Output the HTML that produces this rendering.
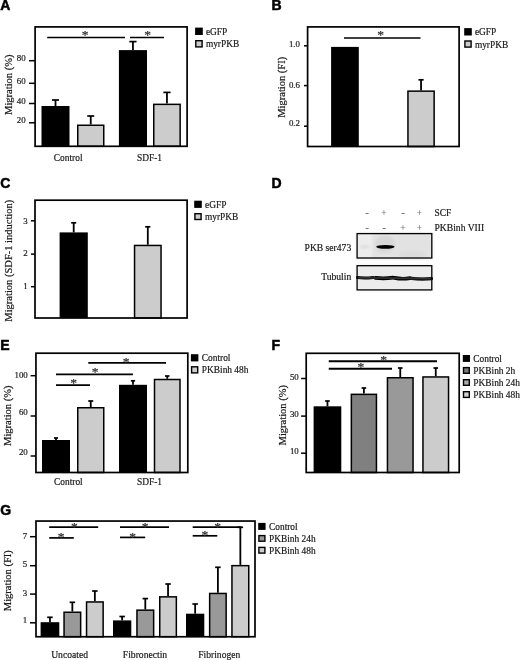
<!DOCTYPE html>
<html><head><meta charset="utf-8"><title>Figure</title>
<style>
html,body{margin:0;padding:0;background:#fff;}
body{width:520px;height:660px;overflow:hidden;}
svg{display:block;filter:blur(0.4px);}
.s{font-family:"Liberation Serif",serif;fill:#1a1a1a;stroke:#1a1a1a;stroke-width:0.2;}
.b{font-family:"Liberation Sans",sans-serif;font-weight:bold;fill:#000;stroke:#000;stroke-width:0.5;}
</style></head><body>
<svg width="520" height="660" viewBox="0 0 520 660">
<defs><filter id="bl" x="-5%" y="-20%" width="110%" height="140%"><feGaussianBlur stdDeviation="1.6"/></filter><filter id="bl2" x="-5%" y="-50%" width="110%" height="200%"><feGaussianBlur stdDeviation="0.7"/></filter></defs>
<rect width="520" height="660" fill="#fff"/>
<text x="0.20" y="10.00" text-anchor="start" font-size="14" class="b" >A</text>
<line x1="55.50" y1="100.00" x2="55.50" y2="106.00" stroke="#000" stroke-width="1.8"/>
<line x1="52.00" y1="100.00" x2="59.00" y2="100.00" stroke="#000" stroke-width="1.7"/>
<rect x="41.50" y="106.00" width="28.00" height="40.30" fill="#000"/>
<line x1="90.75" y1="116.00" x2="90.75" y2="124.50" stroke="#000" stroke-width="1.8"/>
<line x1="87.25" y1="116.00" x2="94.25" y2="116.00" stroke="#000" stroke-width="1.7"/>
<rect x="77.75" y="125.25" width="26.00" height="21.05" fill="#cccccc" stroke="#000" stroke-width="1.5"/>
<line x1="132.95" y1="41.60" x2="132.95" y2="50.10" stroke="#000" stroke-width="1.8"/>
<line x1="129.35" y1="41.60" x2="136.55" y2="41.60" stroke="#000" stroke-width="1.7"/>
<rect x="118.90" y="50.10" width="28.10" height="96.20" fill="#000"/>
<line x1="166.95" y1="92.40" x2="166.95" y2="103.60" stroke="#000" stroke-width="1.8"/>
<line x1="163.35" y1="92.40" x2="170.55" y2="92.40" stroke="#000" stroke-width="1.7"/>
<rect x="153.75" y="104.35" width="26.40" height="41.95" fill="#cccccc" stroke="#000" stroke-width="1.5"/>
<rect x="35.10" y="26.90" width="152.00" height="119.40" fill="none" stroke="#000" stroke-width="1.7"/>
<line x1="29.00" y1="60.70" x2="35.00" y2="60.70" stroke="#000" stroke-width="1.5"/>
<text x="25.60" y="61.20" text-anchor="end" font-size="8.9" class="s" >80</text>
<line x1="29.00" y1="83.30" x2="35.00" y2="83.30" stroke="#000" stroke-width="1.5"/>
<text x="25.60" y="83.80" text-anchor="end" font-size="8.9" class="s" >60</text>
<line x1="29.00" y1="103.50" x2="35.00" y2="103.50" stroke="#000" stroke-width="1.5"/>
<text x="25.60" y="104.00" text-anchor="end" font-size="8.9" class="s" >40</text>
<line x1="29.00" y1="122.80" x2="35.00" y2="122.80" stroke="#000" stroke-width="1.5"/>
<text x="25.60" y="123.30" text-anchor="end" font-size="8.9" class="s" >20</text>
<text transform="translate(11.50,84.70) rotate(-90)" text-anchor="middle" font-size="10.5" class="s">Migration (%)</text>
<line x1="47.20" y1="37.50" x2="125.00" y2="37.50" stroke="#000" stroke-width="1.5"/>
<text x="85.00" y="39.05" text-anchor="middle" font-size="13.5" class="s" style="fill:#333;stroke:#333;stroke-width:0.25">*</text>
<line x1="130.00" y1="37.50" x2="164.00" y2="37.50" stroke="#000" stroke-width="1.5"/>
<text x="147.50" y="39.05" text-anchor="middle" font-size="13.5" class="s" style="fill:#333;stroke:#333;stroke-width:0.25">*</text>
<text x="68.20" y="160.60" text-anchor="middle" font-size="9.4" class="s" >Control</text>
<text x="149.50" y="160.60" text-anchor="middle" font-size="9.4" class="s" >SDF-1</text>
<rect x="195.10" y="27.60" width="7.70" height="7.40" fill="#000"/>
<text x="205.90" y="34.70" text-anchor="start" font-size="9.4" class="s" >eGFP</text>
<rect x="195.80" y="40.70" width="6.30" height="6.20" fill="#cccccc" stroke="#000" stroke-width="1.4"/>
<text x="205.90" y="47.30" text-anchor="start" font-size="9.4" class="s" >myrPKB</text>
<text x="271.40" y="10.00" text-anchor="start" font-size="14" class="b" >B</text>
<line x1="344.95" y1="46.90" x2="344.95" y2="46.90" stroke="#000" stroke-width="1.8"/>
<line x1="344.95" y1="46.90" x2="344.95" y2="46.90" stroke="#000" stroke-width="1.7"/>
<rect x="331.10" y="46.90" width="27.70" height="99.60" fill="#000"/>
<line x1="421.05" y1="79.80" x2="421.05" y2="90.40" stroke="#000" stroke-width="1.8"/>
<line x1="418.45" y1="79.80" x2="423.65" y2="79.80" stroke="#000" stroke-width="1.7"/>
<rect x="407.95" y="91.15" width="26.20" height="55.35" fill="#cccccc" stroke="#000" stroke-width="1.5"/>
<rect x="307.60" y="26.90" width="151.50" height="119.60" fill="none" stroke="#000" stroke-width="1.7"/>
<line x1="304.00" y1="45.80" x2="307.50" y2="45.80" stroke="#000" stroke-width="1.5"/>
<text x="300.00" y="46.60" text-anchor="end" font-size="8.9" class="s" >1.0</text>
<line x1="304.00" y1="85.60" x2="307.50" y2="85.60" stroke="#000" stroke-width="1.5"/>
<text x="300.00" y="87.50" text-anchor="end" font-size="8.9" class="s" >0.6</text>
<line x1="304.00" y1="126.20" x2="307.50" y2="126.20" stroke="#000" stroke-width="1.5"/>
<text x="300.00" y="126.20" text-anchor="end" font-size="8.9" class="s" >0.2</text>
<text transform="translate(285.20,87.30) rotate(-90)" text-anchor="middle" font-size="10.5" class="s">Migration (FI)</text>
<line x1="344.00" y1="38.00" x2="420.50" y2="38.00" stroke="#000" stroke-width="1.6"/>
<text x="380.50" y="39.45" text-anchor="middle" font-size="13.5" class="s" style="fill:#333;stroke:#333;stroke-width:0.25">*</text>
<rect x="464.20" y="28.10" width="7.60" height="7.40" fill="#000"/>
<text x="474.90" y="35.20" text-anchor="start" font-size="9.4" class="s" >eGFP</text>
<rect x="464.90" y="41.00" width="6.20" height="6.10" fill="#cccccc" stroke="#000" stroke-width="1.4"/>
<text x="474.90" y="47.50" text-anchor="start" font-size="9.4" class="s" >myrPKB</text>
<text x="0.20" y="187.70" text-anchor="start" font-size="14" class="b" >C</text>
<line x1="73.70" y1="222.80" x2="73.70" y2="232.40" stroke="#000" stroke-width="1.8"/>
<line x1="71.20" y1="222.80" x2="76.20" y2="222.80" stroke="#000" stroke-width="1.7"/>
<rect x="59.60" y="232.40" width="28.20" height="85.60" fill="#000"/>
<line x1="147.80" y1="226.80" x2="147.80" y2="244.70" stroke="#000" stroke-width="1.8"/>
<line x1="145.20" y1="226.80" x2="150.40" y2="226.80" stroke="#000" stroke-width="1.7"/>
<rect x="134.55" y="245.45" width="26.50" height="72.55" fill="#cccccc" stroke="#000" stroke-width="1.5"/>
<rect x="35.00" y="200.20" width="152.10" height="117.80" fill="none" stroke="#000" stroke-width="1.7"/>
<line x1="31.00" y1="220.80" x2="35.00" y2="220.80" stroke="#000" stroke-width="1.5"/>
<text x="27.80" y="223.60" text-anchor="end" font-size="8.9" class="s" >3</text>
<line x1="31.00" y1="254.10" x2="35.00" y2="254.10" stroke="#000" stroke-width="1.5"/>
<text x="27.80" y="256.00" text-anchor="end" font-size="8.9" class="s" >2</text>
<line x1="31.00" y1="286.70" x2="35.00" y2="286.70" stroke="#000" stroke-width="1.5"/>
<text x="27.80" y="289.20" text-anchor="end" font-size="8.9" class="s" >1</text>
<text transform="translate(11.50,260.70) rotate(-90)" text-anchor="middle" font-size="10.5" class="s">Migration (SDF-1 induction)</text>
<rect x="194.20" y="200.70" width="7.60" height="7.20" fill="#000"/>
<text x="205.00" y="207.60" text-anchor="start" font-size="9.4" class="s" >eGFP</text>
<rect x="194.90" y="213.70" width="6.20" height="5.80" fill="#cccccc" stroke="#000" stroke-width="1.4"/>
<text x="205.00" y="219.90" text-anchor="start" font-size="9.4" class="s" >myrPKB</text>
<text x="271.40" y="187.70" text-anchor="start" font-size="14" class="b" >D</text>
<text x="367.00" y="215.50" text-anchor="middle" font-size="9.5" class="s" style="fill:#666;stroke:#666;stroke-width:0.2">-</text>
<text x="367.00" y="230.50" text-anchor="middle" font-size="9.5" class="s" style="fill:#666;stroke:#666;stroke-width:0.2">-</text>
<text x="384.00" y="215.50" text-anchor="middle" font-size="9.5" class="s" style="fill:#777;stroke:#777;stroke-width:0.15">+</text>
<text x="384.00" y="230.50" text-anchor="middle" font-size="9.5" class="s" style="fill:#666;stroke:#666;stroke-width:0.2">-</text>
<text x="403.00" y="215.50" text-anchor="middle" font-size="9.5" class="s" style="fill:#666;stroke:#666;stroke-width:0.2">-</text>
<text x="403.00" y="230.50" text-anchor="middle" font-size="9.5" class="s" style="fill:#777;stroke:#777;stroke-width:0.15">+</text>
<text x="419.50" y="215.50" text-anchor="middle" font-size="9.5" class="s" style="fill:#777;stroke:#777;stroke-width:0.15">+</text>
<text x="419.50" y="230.50" text-anchor="middle" font-size="9.5" class="s" style="fill:#777;stroke:#777;stroke-width:0.15">+</text>
<text x="434.50" y="215.50" text-anchor="start" font-size="9.4" class="s" >SCF</text>
<text x="434.50" y="230.50" text-anchor="start" font-size="9.6" class="s" >PKBinh VIII</text>
<text x="351.20" y="251.40" text-anchor="end" font-size="9.6" class="s" >PKB ser473</text>
<text x="351.20" y="280.00" text-anchor="end" font-size="9.6" class="s" >Tubulin</text>
<g filter="url(#bl)">
<rect x="356.50" y="233.00" width="75.90" height="25.60" fill="#e2e2e2"/>
<rect x="356.50" y="233.00" width="15.50" height="25.60" fill="#ededed"/>
<rect x="356.50" y="265.10" width="75.90" height="25.40" fill="#ececec"/>
<ellipse cx="385" cy="244" rx="10" ry="9" fill="#d4d4d4" opacity="0.7"/>
<ellipse cx="412" cy="255" rx="14" ry="4" fill="#d8d8d8" opacity="0.7"/>
<ellipse cx="365" cy="246.7" rx="5" ry="1.2" fill="#cfcfcf" opacity="0.8"/>
</g>
<g filter="url(#bl2)">
<ellipse cx="385.4" cy="246.8" rx="9.2" ry="1.9" fill="#050505"/>
<path d="M357.5 277.6 Q 365 278.6 373 277.4" stroke="#0c0c0c" stroke-width="3.0" fill="none" stroke-linecap="round"/>
<path d="M375.5 277.9 Q 384 279 393 277.6" stroke="#060606" stroke-width="3.7" fill="none" stroke-linecap="round"/>
<path d="M394.5 277.9 Q 402 279.4 410 278.2" stroke="#060606" stroke-width="3.7" fill="none" stroke-linecap="round"/>
<path d="M411.5 278.3 Q 421 279.6 431.5 278.6" stroke="#0c0c0c" stroke-width="3.2" fill="none" stroke-linecap="round"/>
<path d="M357.5 277.8 L 431.5 278.6" stroke="#333" stroke-width="1.6" fill="none"/>
</g>
<rect x="357.10" y="233.60" width="74.70" height="24.40" fill="none" stroke="#000" stroke-width="1.3"/>
<rect x="357.10" y="265.70" width="74.70" height="24.20" fill="none" stroke="#000" stroke-width="1.3"/>
<text x="0.20" y="350.00" text-anchor="start" font-size="14" class="b" >E</text>
<line x1="56.00" y1="438.00" x2="56.00" y2="440.00" stroke="#000" stroke-width="1.8"/>
<line x1="54.00" y1="438.00" x2="58.00" y2="438.00" stroke="#000" stroke-width="1.7"/>
<rect x="42.00" y="440.00" width="28.00" height="32.50" fill="#000"/>
<line x1="90.75" y1="401.00" x2="90.75" y2="407.00" stroke="#000" stroke-width="1.8"/>
<line x1="88.25" y1="401.00" x2="93.25" y2="401.00" stroke="#000" stroke-width="1.7"/>
<rect x="77.75" y="407.75" width="26.00" height="64.75" fill="#cccccc" stroke="#000" stroke-width="1.5"/>
<line x1="133.00" y1="380.80" x2="133.00" y2="384.80" stroke="#000" stroke-width="1.8"/>
<line x1="130.90" y1="380.80" x2="135.10" y2="380.80" stroke="#000" stroke-width="1.7"/>
<rect x="119.00" y="384.80" width="28.00" height="87.70" fill="#000"/>
<line x1="167.25" y1="376.00" x2="167.25" y2="378.75" stroke="#000" stroke-width="1.8"/>
<line x1="165.00" y1="376.00" x2="169.50" y2="376.00" stroke="#000" stroke-width="1.7"/>
<rect x="154.50" y="379.50" width="25.50" height="93.00" fill="#cccccc" stroke="#000" stroke-width="1.5"/>
<rect x="35.95" y="353.20" width="151.85" height="119.30" fill="none" stroke="#000" stroke-width="1.7"/>
<line x1="30.60" y1="375.70" x2="36.00" y2="375.70" stroke="#000" stroke-width="1.5"/>
<text x="27.80" y="377.60" text-anchor="end" font-size="8.9" class="s" >100</text>
<line x1="30.60" y1="416.00" x2="36.00" y2="416.00" stroke="#000" stroke-width="1.5"/>
<text x="27.80" y="415.00" text-anchor="end" font-size="8.9" class="s" >60</text>
<line x1="30.60" y1="456.00" x2="36.00" y2="456.00" stroke="#000" stroke-width="1.5"/>
<text x="27.80" y="454.50" text-anchor="end" font-size="8.9" class="s" >20</text>
<text transform="translate(11.20,415.70) rotate(-90)" text-anchor="middle" font-size="10.5" class="s">Migration (%)</text>
<line x1="88.30" y1="362.90" x2="166.00" y2="362.90" stroke="#000" stroke-width="1.9"/>
<text x="126.00" y="365.95" text-anchor="middle" font-size="13.5" class="s" style="fill:#333;stroke:#333;stroke-width:0.25">*</text>
<line x1="56.00" y1="374.40" x2="132.90" y2="374.40" stroke="#000" stroke-width="1.9"/>
<text x="95.20" y="376.35" text-anchor="middle" font-size="13.5" class="s" style="fill:#333;stroke:#333;stroke-width:0.25">*</text>
<line x1="56.00" y1="385.10" x2="90.00" y2="385.10" stroke="#000" stroke-width="1.9"/>
<text x="73.70" y="387.45" text-anchor="middle" font-size="13.5" class="s" style="fill:#333;stroke:#333;stroke-width:0.25">*</text>
<text x="68.40" y="484.60" text-anchor="middle" font-size="9.4" class="s" >Control</text>
<text x="149.50" y="484.60" text-anchor="middle" font-size="9.4" class="s" >SDF-1</text>
<rect x="190.90" y="354.20" width="7.50" height="7.20" fill="#000"/>
<text x="201.80" y="361.10" text-anchor="start" font-size="9.4" class="s" >Control</text>
<rect x="191.60" y="366.80" width="6.10" height="6.10" fill="#cccccc" stroke="#000" stroke-width="1.4"/>
<text x="201.80" y="373.30" text-anchor="start" font-size="9.4" class="s" >PKBinh 48h</text>
<text x="271.40" y="350.00" text-anchor="start" font-size="14" class="b" >F</text>
<line x1="327.45" y1="401.00" x2="327.45" y2="406.30" stroke="#000" stroke-width="1.8"/>
<line x1="325.15" y1="401.00" x2="329.75" y2="401.00" stroke="#000" stroke-width="1.7"/>
<rect x="313.60" y="406.30" width="27.70" height="66.20" fill="#000"/>
<line x1="363.90" y1="388.00" x2="363.90" y2="393.60" stroke="#000" stroke-width="1.8"/>
<line x1="361.60" y1="388.00" x2="366.20" y2="388.00" stroke="#000" stroke-width="1.7"/>
<rect x="351.35" y="394.35" width="25.10" height="78.15" fill="#808080" stroke="#000" stroke-width="1.5"/>
<line x1="400.25" y1="368.00" x2="400.25" y2="377.00" stroke="#000" stroke-width="1.8"/>
<line x1="397.95" y1="368.00" x2="402.55" y2="368.00" stroke="#000" stroke-width="1.7"/>
<rect x="387.45" y="377.75" width="25.60" height="94.75" fill="#999999" stroke="#000" stroke-width="1.5"/>
<line x1="435.75" y1="368.00" x2="435.75" y2="376.20" stroke="#000" stroke-width="1.8"/>
<line x1="433.45" y1="368.00" x2="438.05" y2="368.00" stroke="#000" stroke-width="1.7"/>
<rect x="422.95" y="376.95" width="25.60" height="95.55" fill="#cccccc" stroke="#000" stroke-width="1.5"/>
<rect x="306.20" y="353.30" width="153.00" height="119.20" fill="none" stroke="#000" stroke-width="1.7"/>
<line x1="301.10" y1="378.50" x2="306.20" y2="378.50" stroke="#000" stroke-width="1.5"/>
<text x="298.80" y="379.90" text-anchor="end" font-size="8.9" class="s" >50</text>
<line x1="301.10" y1="416.10" x2="306.20" y2="416.10" stroke="#000" stroke-width="1.5"/>
<text x="298.80" y="417.10" text-anchor="end" font-size="8.9" class="s" >30</text>
<line x1="301.10" y1="453.20" x2="306.20" y2="453.20" stroke="#000" stroke-width="1.5"/>
<text x="298.80" y="453.70" text-anchor="end" font-size="8.9" class="s" >10</text>
<text transform="translate(285.50,415.20) rotate(-90)" text-anchor="middle" font-size="10.5" class="s">Migration (%)</text>
<line x1="328.75" y1="361.20" x2="437.00" y2="361.20" stroke="#000" stroke-width="1.9"/>
<text x="383.60" y="363.95" text-anchor="middle" font-size="13.5" class="s" style="fill:#333;stroke:#333;stroke-width:0.25">*</text>
<line x1="328.75" y1="368.80" x2="392.00" y2="368.80" stroke="#000" stroke-width="1.9"/>
<text x="360.80" y="371.45" text-anchor="middle" font-size="13.5" class="s" style="fill:#333;stroke:#333;stroke-width:0.25">*</text>
<rect x="462.80" y="355.00" width="7.20" height="6.90" fill="#000"/>
<text x="473.30" y="361.60" text-anchor="start" font-size="9.4" class="s" >Control</text>
<rect x="463.50" y="367.60" width="5.80" height="5.70" fill="#777" stroke="#000" stroke-width="1.4"/>
<text x="473.30" y="373.70" text-anchor="start" font-size="9.4" class="s" >PKBinh 2h</text>
<rect x="463.50" y="379.70" width="5.80" height="5.60" fill="#aaa" stroke="#000" stroke-width="1.4"/>
<text x="473.30" y="385.70" text-anchor="start" font-size="9.4" class="s" >PKBinh 24h</text>
<rect x="463.50" y="391.70" width="5.80" height="5.70" fill="#d0d0d0" stroke="#000" stroke-width="1.4"/>
<text x="473.30" y="397.80" text-anchor="start" font-size="9.4" class="s" >PKBinh 48h</text>
<text x="0.20" y="515.20" text-anchor="start" font-size="14" class="b" >G</text>
<line x1="49.95" y1="617.30" x2="49.95" y2="622.20" stroke="#000" stroke-width="1.8"/>
<line x1="47.20" y1="617.30" x2="52.70" y2="617.30" stroke="#000" stroke-width="1.7"/>
<rect x="40.60" y="622.20" width="18.70" height="14.55" fill="#000"/>
<line x1="72.35" y1="602.30" x2="72.35" y2="611.50" stroke="#000" stroke-width="1.8"/>
<line x1="69.60" y1="602.30" x2="75.10" y2="602.30" stroke="#000" stroke-width="1.7"/>
<rect x="64.05" y="612.25" width="16.60" height="24.50" fill="#999999" stroke="#000" stroke-width="1.5"/>
<line x1="94.85" y1="591.00" x2="94.85" y2="601.20" stroke="#000" stroke-width="1.8"/>
<line x1="92.10" y1="591.00" x2="97.60" y2="591.00" stroke="#000" stroke-width="1.7"/>
<rect x="86.55" y="601.95" width="16.60" height="34.80" fill="#cccccc" stroke="#000" stroke-width="1.5"/>
<line x1="122.15" y1="616.50" x2="122.15" y2="620.40" stroke="#000" stroke-width="1.8"/>
<line x1="119.40" y1="616.50" x2="124.90" y2="616.50" stroke="#000" stroke-width="1.7"/>
<rect x="113.00" y="620.40" width="18.30" height="16.35" fill="#000"/>
<line x1="145.30" y1="598.60" x2="145.30" y2="609.40" stroke="#000" stroke-width="1.8"/>
<line x1="142.55" y1="598.60" x2="148.05" y2="598.60" stroke="#000" stroke-width="1.7"/>
<rect x="136.95" y="610.15" width="16.70" height="26.60" fill="#999999" stroke="#000" stroke-width="1.5"/>
<line x1="168.05" y1="584.00" x2="168.05" y2="596.10" stroke="#000" stroke-width="1.8"/>
<line x1="165.30" y1="584.00" x2="170.80" y2="584.00" stroke="#000" stroke-width="1.7"/>
<rect x="159.75" y="596.85" width="16.60" height="39.90" fill="#cccccc" stroke="#000" stroke-width="1.5"/>
<line x1="195.15" y1="604.00" x2="195.15" y2="613.70" stroke="#000" stroke-width="1.8"/>
<line x1="192.40" y1="604.00" x2="197.90" y2="604.00" stroke="#000" stroke-width="1.7"/>
<rect x="186.00" y="613.70" width="18.30" height="23.05" fill="#000"/>
<line x1="217.90" y1="567.30" x2="217.90" y2="592.70" stroke="#000" stroke-width="1.8"/>
<line x1="215.15" y1="567.30" x2="220.65" y2="567.30" stroke="#000" stroke-width="1.7"/>
<rect x="209.65" y="593.45" width="16.50" height="43.30" fill="#999999" stroke="#000" stroke-width="1.5"/>
<line x1="240.35" y1="527.30" x2="240.35" y2="564.90" stroke="#000" stroke-width="1.8"/>
<line x1="237.60" y1="527.30" x2="243.10" y2="527.30" stroke="#000" stroke-width="1.7"/>
<rect x="231.95" y="565.65" width="16.80" height="71.10" fill="#cccccc" stroke="#000" stroke-width="1.5"/>
<rect x="36.00" y="521.05" width="219.00" height="115.70" fill="none" stroke="#000" stroke-width="1.7"/>
<line x1="30.00" y1="536.70" x2="36.00" y2="536.70" stroke="#000" stroke-width="1.5"/>
<text x="27.30" y="539.20" text-anchor="end" font-size="8.9" class="s" >7</text>
<line x1="30.00" y1="565.70" x2="36.00" y2="565.70" stroke="#000" stroke-width="1.5"/>
<text x="27.30" y="567.40" text-anchor="end" font-size="8.9" class="s" >5</text>
<line x1="30.00" y1="594.10" x2="36.00" y2="594.10" stroke="#000" stroke-width="1.5"/>
<text x="27.30" y="595.80" text-anchor="end" font-size="8.9" class="s" >3</text>
<line x1="30.00" y1="622.80" x2="36.00" y2="622.80" stroke="#000" stroke-width="1.5"/>
<text x="27.30" y="623.20" text-anchor="end" font-size="8.9" class="s" >1</text>
<text transform="translate(11.30,580.70) rotate(-90)" text-anchor="middle" font-size="10.5" class="s">Migration (FI)</text>
<line x1="49.20" y1="527.10" x2="98.20" y2="527.10" stroke="#000" stroke-width="1.7"/>
<text x="74.30" y="530.75" text-anchor="middle" font-size="13.5" class="s" style="fill:#333;stroke:#333;stroke-width:0.25">*</text>
<line x1="49.20" y1="537.90" x2="73.80" y2="537.90" stroke="#000" stroke-width="1.7"/>
<text x="61.10" y="541.15" text-anchor="middle" font-size="13.5" class="s" style="fill:#333;stroke:#333;stroke-width:0.25">*</text>
<line x1="120.00" y1="527.10" x2="169.00" y2="527.10" stroke="#000" stroke-width="1.7"/>
<text x="145.20" y="530.75" text-anchor="middle" font-size="13.5" class="s" style="fill:#333;stroke:#333;stroke-width:0.25">*</text>
<line x1="120.00" y1="537.40" x2="145.20" y2="537.40" stroke="#000" stroke-width="1.7"/>
<text x="132.50" y="540.65" text-anchor="middle" font-size="13.5" class="s" style="fill:#333;stroke:#333;stroke-width:0.25">*</text>
<line x1="192.70" y1="527.10" x2="241.50" y2="527.10" stroke="#000" stroke-width="1.7"/>
<text x="217.60" y="530.75" text-anchor="middle" font-size="13.5" class="s" style="fill:#333;stroke:#333;stroke-width:0.25">*</text>
<line x1="192.70" y1="535.80" x2="217.30" y2="535.80" stroke="#000" stroke-width="1.7"/>
<text x="204.80" y="539.05" text-anchor="middle" font-size="13.5" class="s" style="fill:#333;stroke:#333;stroke-width:0.25">*</text>
<text x="51.20" y="657.90" text-anchor="start" font-size="9.6" class="s" >Uncoated</text>
<text x="122.80" y="657.90" text-anchor="start" font-size="9.65" class="s" >Fibronectin</text>
<text x="198.30" y="657.90" text-anchor="start" font-size="9.55" class="s" >Fibrinogen</text>
<rect x="258.20" y="522.90" width="7.40" height="7.00" fill="#000"/>
<text x="269.00" y="529.60" text-anchor="start" font-size="9.4" class="s" >Control</text>
<rect x="258.90" y="535.60" width="6.00" height="5.60" fill="#999999" stroke="#000" stroke-width="1.4"/>
<text x="269.00" y="541.60" text-anchor="start" font-size="9.4" class="s" >PKBinh 24h</text>
<rect x="258.90" y="547.40" width="6.00" height="5.70" fill="#cccccc" stroke="#000" stroke-width="1.4"/>
<text x="269.00" y="553.50" text-anchor="start" font-size="9.4" class="s" >PKBinh 48h</text>
</svg>
</body></html>
